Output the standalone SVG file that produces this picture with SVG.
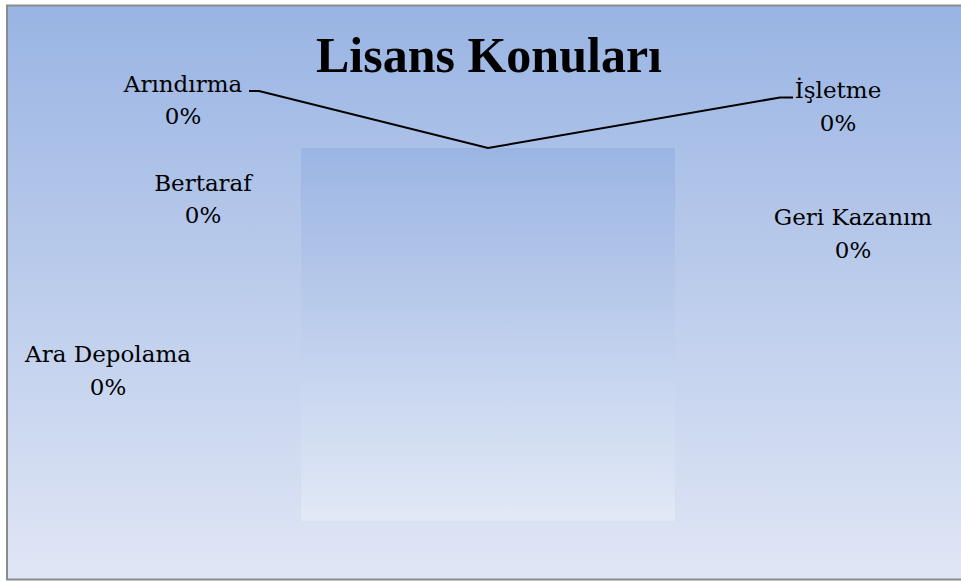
<svg xmlns="http://www.w3.org/2000/svg" width="961" height="582" viewBox="0 0 961 582">
<defs>
<linearGradient id="bg" x1="0" y1="0" x2="0" y2="1">
<stop offset="0" stop-color="#99b4e3"/>
<stop offset="1" stop-color="#e0e6f5"/>
</linearGradient>
<linearGradient id="plot" x1="0" y1="0" x2="0" y2="1">
<stop offset="0" stop-color="#9bb5e3"/>
<stop offset="1" stop-color="#e2e9f6"/>
</linearGradient>
</defs>
<style>
.lbl{font-family:"DejaVu Serif","Liberation Serif",serif;font-size:23px;fill:#000;text-anchor:middle}
.title{font-family:"Liberation Serif",serif;font-size:50px;font-weight:bold;fill:#000;text-anchor:middle}
.lead{fill:none;stroke:#000;stroke-width:2}
</style>
<rect x="0" y="0" width="961" height="582" fill="#ffffff"/>
<rect x="7" y="5.5" width="960" height="574" fill="url(#bg)" stroke="#8c8c8c" stroke-width="2"/>
<rect id="plot-area" x="301" y="148" width="374" height="373" fill="url(#plot)"/>
<text class="title" x="489" y="72">Lisans Konuları</text>
<g id="connectors">
<polyline class="lead" points="249,91 259,91 488,148 780,97.5 793,97.5"/>
</g>
<g id="arindirma"><text class="lbl" x="183" y="92">Arındırma</text><text class="lbl" x="183" y="124">0%</text></g>
<g id="isletme"><text class="lbl" x="838" y="98">İşletme</text><text class="lbl" x="838" y="131">0%</text></g>
<g id="bertaraf"><text class="lbl" x="203" y="191">Bertaraf</text><text class="lbl" x="203" y="223">0%</text></g>
<g id="geri-kazanim"><text class="lbl" x="853" y="225">Geri Kazanım</text><text class="lbl" x="853" y="258">0%</text></g>
<g id="ara-depolama"><text class="lbl" x="108" y="362">Ara Depolama</text><text class="lbl" x="108" y="395">0%</text></g>
</svg>
